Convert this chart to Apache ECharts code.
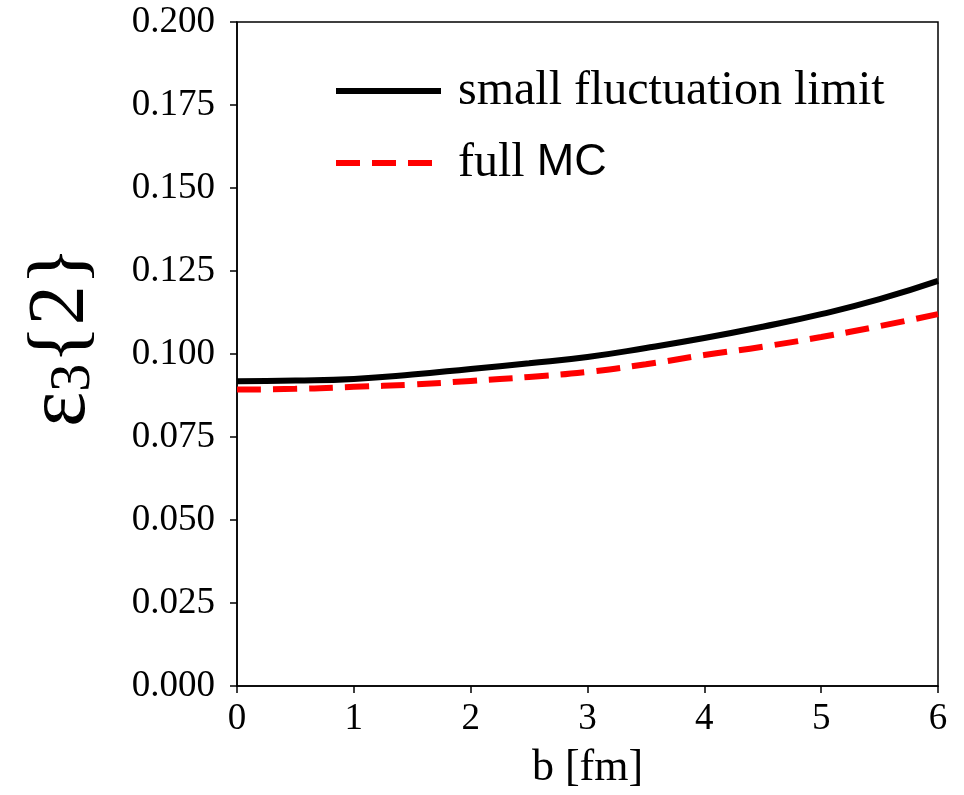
<!DOCTYPE html>
<html>
<head>
<meta charset="utf-8">
<script src="https://cdn.jsdelivr.net/npm/echarts@6/dist/echarts.min.js"></script>
<style>html,body{margin:0;padding:0;background:#fff}#c{width:964px;height:795px}</style>
</head>
<body>
<div id="c"></div>
<script>
var bValues = [0, 0.5, 1, 1.5, 2, 2.5, 3, 3.5, 4, 4.5, 5, 5.5, 6];
var smallFluct = [0.0918, 0.0920, 0.0925, 0.0938, 0.0955, 0.0972, 0.0991, 0.1018, 0.1048, 0.1082, 0.1120, 0.1165, 0.1220];
var fullMC = [0.0893, 0.0895, 0.0901, 0.0908, 0.0919, 0.0931, 0.0946, 0.0969, 0.0997, 0.1022, 0.1051, 0.1084, 0.1120];
var seriesNames = ['small fluctuation limit', 'full MC'];

var serif = 'Liberation Serif';
var chart = echarts.init(document.getElementById('c'));
function pairs(ys){ return bValues.map(function(x,i){ return [x, ys[i]]; }); }
chart.setOption({
  animation: false,
  backgroundColor: '#fff',
  grid: { left: 237, right: 26, top: 22, bottom: 109, show: true, borderColor: '#000', borderWidth: 1.5, backgroundColor: 'transparent' },
  legend: {
    orient: 'vertical', left: 328, top: 62, itemWidth: 105, itemHeight: 14, itemGap: 24,
    data: seriesNames,
    itemStyle: { opacity: 0 },
    lineStyle: { width: 6 },
    textStyle: { fontFamily: serif, fontSize: 48, color: '#000', lineHeight: 46,
      rich: {
        s: { fontFamily: serif, fontSize: 48, color: '#000', lineHeight: 46, padding: [0, 0, 0, 12] },
        m: { fontFamily: 'Liberation Sans', fontSize: 45, color: '#000', lineHeight: 46 }
      } },
    formatter: function(n){ return n === 'full MC' ? '{s|full} {m|MC}' : '{s|' + n + '}'; }
  },
  xAxis: {
    type: 'value', min: 0, max: 6, interval: 1,
    name: 'b [fm]', nameLocation: 'middle', nameGap: 60,
    nameTextStyle: { fontFamily: serif, fontSize: 44, color: '#000' },
    axisLine: { show: true, lineStyle: { color: '#000', width: 1.5 } },
    axisTick: { show: true, inside: false, length: 7, lineStyle: { color: '#000', width: 1.5 } },
    axisLabel: { fontFamily: serif, fontSize: 37, color: '#000', margin: 15 },
    splitLine: { show: false }
  },
  yAxis: {
    type: 'value', min: 0, max: 0.2, interval: 0.025,
    name: '{e|ε}{sub|3}{2}', nameLocation: 'middle', nameGap: 135, nameRotate: 90,
    nameTextStyle: { fontFamily: serif, fontSize: 80, color: '#000', lineHeight: 80, padding: [0, 0, 0, 34],
      rich: { e: { fontFamily: serif, fontSize: 84, color: '#000', lineHeight: 80 },
              sub: { fontFamily: serif, fontSize: 56, color: '#000', lineHeight: 56, verticalAlign: 'bottom' } } },
    axisLine: { show: true, lineStyle: { color: '#000', width: 1.5 } },
    axisTick: { show: true, inside: false, length: 7, lineStyle: { color: '#000', width: 1.5 } },
    axisLabel: { fontFamily: serif, fontSize: 37, color: '#000', margin: 22, formatter: function(v){ return v.toFixed(3); } },
    splitLine: { show: false }
  },
  series: [
    { name: seriesNames[0], type: 'line', data: pairs(smallFluct), smooth: true, symbol: 'none',
      lineStyle: { color: '#000', width: 6 }, itemStyle: { color: '#000' } },
    { name: seriesNames[1], type: 'line', data: pairs(fullMC), smooth: true, symbol: 'none',
      lineStyle: { color: '#ff0000', width: 6, type: [24, 12] }, itemStyle: { color: '#ff0000' } }
  ]
});
</script>
</body>
</html>
